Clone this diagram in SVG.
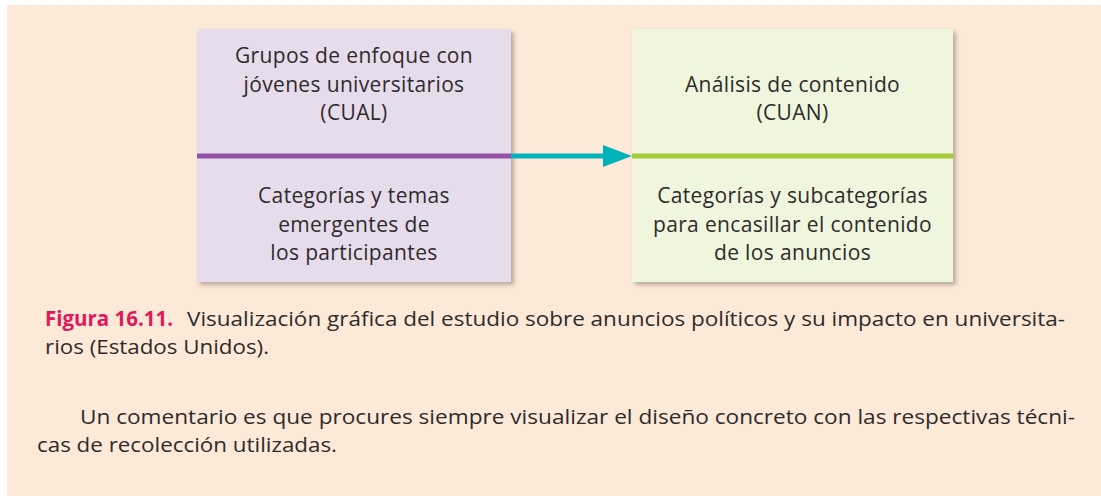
<svg xmlns="http://www.w3.org/2000/svg" width="1101" height="496" viewBox="0 0 1101 496">
<defs>
<filter id="sh" x="-10%" y="-10%" width="125%" height="125%">
<feDropShadow dx="3" dy="3" stdDeviation="2.2" flood-color="#5a4a40" flood-opacity="0.4"/>
</filter>
</defs>
<style>
.t{font-family:"Open Sans","Liberation Sans",sans-serif;font-size:21px;fill:#2e2b2b;text-anchor:middle;letter-spacing:0.35px}
.c{font-family:"Open Sans","Liberation Sans",sans-serif;font-size:20.5px;fill:#2e2b2b}
.fig{font-weight:bold;fill:#e3185c}
</style>
<rect x="0" y="0" width="1101" height="496" fill="#ffffff"/>
<rect x="7" y="5" width="1094" height="491" fill="#fde9d8"/>
<g id="node-cual">
<rect x="197" y="29" width="314" height="253" fill="#e7dcec" filter="url(#sh)"/>
<line x1="197" y1="156" x2="511" y2="156" stroke="#9454a6" stroke-width="5"/>
<text class="t" x="354" y="63">Grupos de enfoque con</text>
<text class="t" x="354" y="91.5">jóvenes universitarios</text>
<text class="t" x="354" y="120">(CUAL)</text>
<text class="t" x="354" y="203">Categorías y temas</text>
<text class="t" x="354" y="231.5">emergentes de</text>
<text class="t" x="354" y="260">los participantes</text>
</g>
<g id="node-cuan">
<rect x="632" y="29" width="321" height="253" fill="#eff6dd" filter="url(#sh)"/>
<line x1="632" y1="156" x2="953" y2="156" stroke="#a4cd39" stroke-width="5"/>
<text class="t" x="792.5" y="91.5">Análisis de contenido</text>
<text class="t" x="792.5" y="120">(CUAN)</text>
<text class="t" x="792.5" y="203">Categorías y subcategorías</text>
<text class="t" x="792.5" y="231.5">para encasillar el contenido</text>
<text class="t" x="792.5" y="260">de los anuncios</text>
</g>
<g id="connectors">
<line x1="511" y1="156" x2="606" y2="156" stroke="#00b3ba" stroke-width="5"/>
<polygon points="603,145 632,156 603,167" fill="#00b3ba"/>
</g>
<g id="caption">
<text class="c fig" x="45" y="326" textLength="128" lengthAdjust="spacingAndGlyphs">Figura 16.11.</text>
<text class="c" x="187" y="326" textLength="878" lengthAdjust="spacingAndGlyphs">Visualización gráfica del estudio sobre anuncios políticos y su impacto en universita-</text>
<text class="c" x="45" y="354" textLength="224" lengthAdjust="spacingAndGlyphs">rios (Estados Unidos).</text>
<text class="c" x="80" y="424" textLength="995" lengthAdjust="spacingAndGlyphs">Un comentario es que procures siempre visualizar el diseño concreto con las respectivas técni-</text>
<text class="c" x="37" y="452" textLength="300" lengthAdjust="spacingAndGlyphs">cas de recolección utilizadas.</text>
</g>
</svg>
